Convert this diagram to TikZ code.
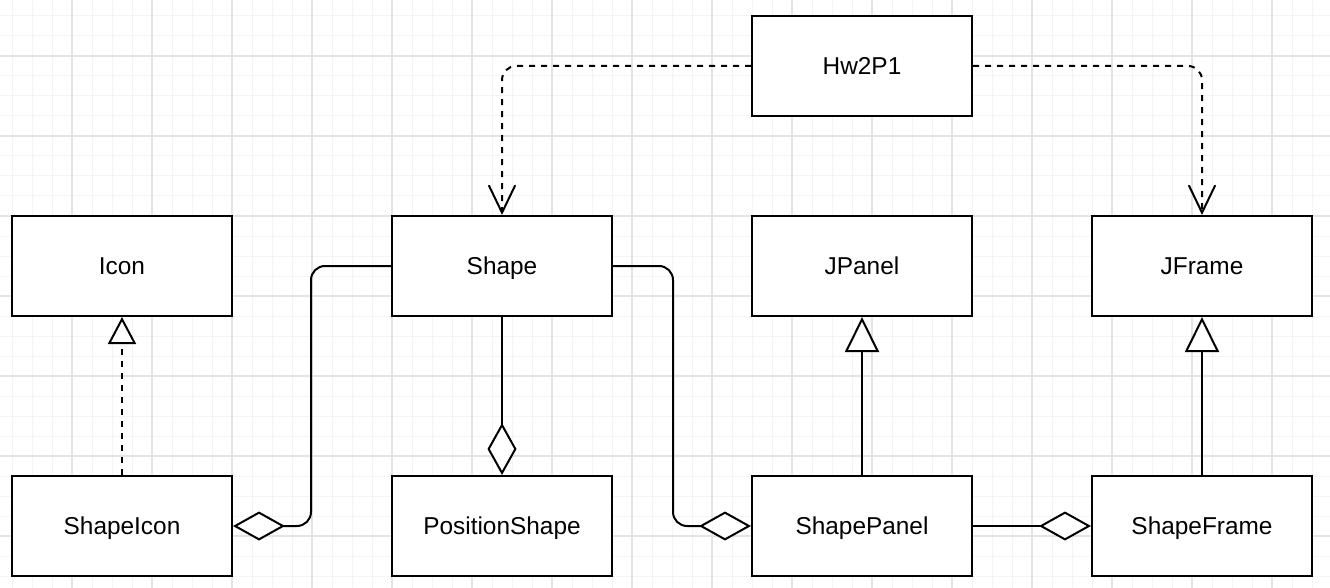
\documentclass[tikz,border=0pt]{standalone}
\usepackage{fontspec}
\setmainfont{Liberation Sans}
\usetikzlibrary{arrows.meta}
\definecolor{gridminor}{HTML}{F4F4F4}
\definecolor{gridmajor}{HTML}{E4E4E4}
\tikzset{
  cls/.style={draw=black, line width=2pt, fill=white, minimum width=220pt, minimum height=100pt, inner sep=0pt, text height=17.4pt, text depth=0pt, font=\fontsize{24.4}{28}\selectfont},
  conn/.style={draw=black, line width=2pt, rounded corners=14pt},
  dep/.style={conn, dash pattern=on 6pt off 6pt, -{Straight Barb[length=27pt,width=26pt,line cap=round]}},
  gen/.style={conn, -{Triangle[length=35pt,width=34pt,fill=white]}},
  real/.style={conn, dash pattern=on 6pt off 6pt, -{Triangle[length=27pt,width=28pt,fill=white]}},
  agg/.style={conn, -{Diamond[length=52pt,width=29pt,fill=white]}},
  minorline/.style={draw=gridminor, line width=1pt},
  majorline/.style={draw=gridmajor, line width=1.2pt}
}
\begin{document}
\begin{tikzpicture}[x=1pt,y=-1pt]
\useasboundingbox (0,0) rectangle (1330,588);
\fill[white] (0,0) rectangle (1330,588);
\foreach \x in {12,32,...,1330} \draw[minorline] (\x,0) -- (\x,588);
\foreach \y in {16,36,...,588} \draw[minorline] (0,\y) -- (1330,\y);
\foreach \x in {72,152,...,1330} \draw[majorline] (\x,0) -- (\x,588);
\foreach \y in {56,136,...,588} \draw[majorline] (0,\y) -- (1330,\y);

\node[cls] (hw) at (862,66) {Hw2P1};
\node[cls] (icon) at (122,266) {Icon};
\node[cls] (shape) at (502,266) {Shape};
\node[cls] (jpanel) at (862,266) {JPanel};
\node[cls] (jframe) at (1202,266) {JFrame};
\node[cls] (shapeicon) at (122,526) {ShapeIcon};
\node[cls] (position) at (502,526) {PositionShape};
\node[cls] (shapepanel) at (862,526) {ShapePanel};
\node[cls] (shapeframe) at (1202,526) {ShapeFrame};

\draw[dep] (hw.west) -| (shape.north);
\draw[dep] (hw.east) -| (jframe.north);
\draw[agg] (shape.west) -- ++(-80,0) |- (shapeicon.east);
\draw[agg] (shape.south) -- (position.north);
\draw[agg] (shape.east) -- ++(60,0) |- (shapepanel.west);
\draw[gen] (shapepanel.north) -- (jpanel.south);
\draw[gen] (shapeframe.north) -- (jframe.south);
\draw[real] (shapeicon.north) -- (icon.south);
\draw[agg] (shapepanel.east) -- (shapeframe.west);
\end{tikzpicture}
\end{document}
